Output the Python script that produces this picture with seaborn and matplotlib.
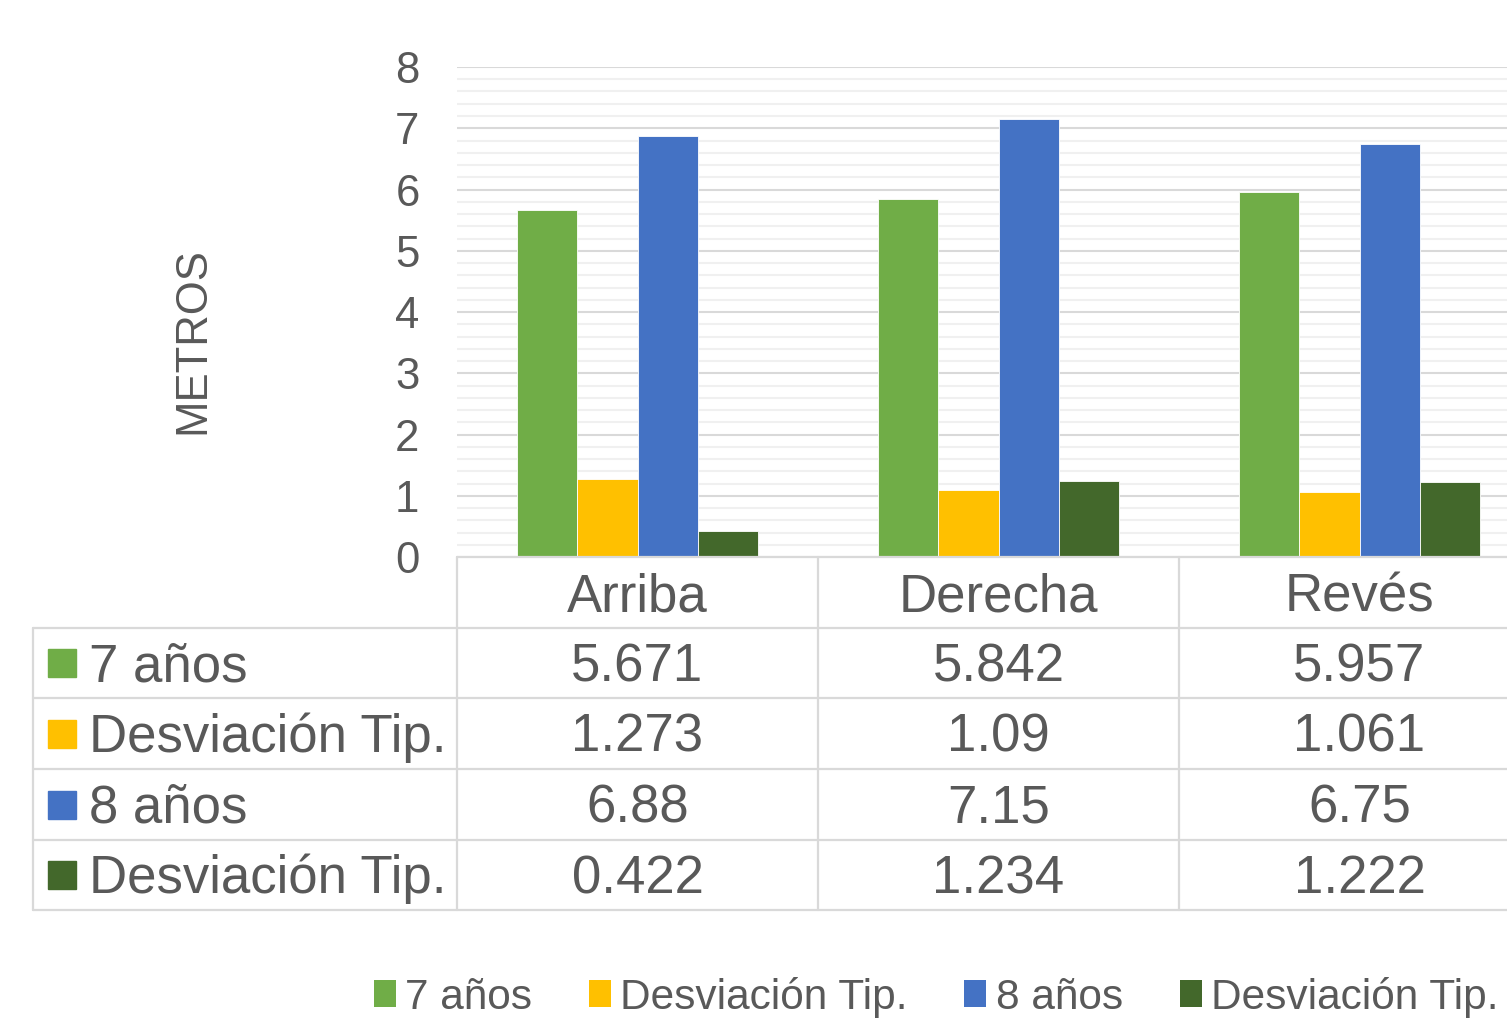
import matplotlib
matplotlib.use("Agg")
import matplotlib.pyplot as plt
from matplotlib.patches import Rectangle, Patch
from matplotlib.lines import Line2D
from matplotlib.ticker import MultipleLocator
import matplotlib.transforms as mtransforms
import seaborn as sns
import pandas as pd

categories = ["Arriba", "Derecha", "Revés"]
series_labels = ["7 años", "Desviación Tip.", "8 años", "Desviación Tip."]
series_keys = ["s7", "sd7", "s8", "sd8"]
vals_7 = [5.671, 5.842, 5.957]
sd_7 = [1.273, 1.09, 1.061]
vals_8 = [6.88, 7.15, 6.75]
sd_8 = [0.422, 1.234, 1.222]
colors = ["#70AD47", "#FFC000", "#4472C4", "#43682B"]
y_label = "METROS"

all_vals = [vals_7, sd_7, vals_8, sd_8]
rows = []
for key, vals in zip(series_keys, all_vals):
    for c, v in zip(categories, vals):
        rows.append({"cat": c, "serie": key, "val": v})
df = pd.DataFrame(rows)

sns.set_theme(style="white")
plt.rcParams["font.family"] = ["Liberation Sans", "DejaVu Sans"]
TXT = "#595959"
GRID = "#d9d9d9"
W, H = 1507, 1022

fig = plt.figure(figsize=(W / 100, H / 100), dpi=100)
ax = fig.add_axes([457 / W, 1 - 557 / H, (1540 - 457) / W, (557 - 67) / H])

sns.barplot(data=df, x="cat", y="val", hue="serie", hue_order=series_keys,
            order=categories, palette=dict(zip(series_keys, colors)),
            width=0.667, saturation=1, ax=ax, legend=False,
            edgecolor="white", linewidth=0.6)

ax.set_xlim(-0.5, 2.5)
ax.set_ylim(0, 8)
ax.yaxis.set_major_locator(MultipleLocator(1))
ax.yaxis.set_minor_locator(MultipleLocator(0.2))
ax.grid(axis="y", which="major", color=GRID, linewidth=1.5)
ax.grid(axis="y", which="minor", color="#f0f0f0", linewidth=1.5)
ax.set_axisbelow(True)
for s in ax.spines.values():
    s.set_visible(False)
ax.tick_params(axis="y", which="both", length=0, labelsize=31.5, labelcolor=TXT, pad=27)
ax.set_xticks([])
ax.set_xlabel("")
ax.set_ylabel("")
fig.text(193 / W, 1 - 341 / H, y_label, rotation=90, ha="center", va="center",
         fontsize=31.4, color=TXT)

# data table below the axis
def fy(y):
    return 1 - y / H

blend = mtransforms.blended_transform_factory(ax.transData, fig.transFigure)
row_bounds = [557, 628, 698, 769, 840, 910]
lw = 1.6
# horizontal lines
fig.add_artist(Line2D([457 / W, 1.0], [fy(557)] * 2, color=GRID, lw=lw))
for yb in row_bounds[1:]:
    fig.add_artist(Line2D([33 / W, 1.0], [fy(yb)] * 2, color=GRID, lw=lw))
# vertical lines
fig.add_artist(Line2D([33 / W] * 2, [fy(628), fy(910)], color=GRID, lw=lw))
for xb in [-0.5, 0.5, 1.5]:
    ax.add_artist(Line2D([xb, xb], [fy(557), fy(910)], color=GRID, lw=lw,
                         transform=blend, clip_on=False))

FS = 38
# header row
for i, c in enumerate(categories):
    ax.text(i, fy(597), c, transform=blend, ha="center", va="center",
            fontsize=FS, color=TXT, clip_on=False)
# data rows
for r, (lab, col, vals) in enumerate(zip(series_labels, colors, all_vals)):
    yc = (row_bounds[r + 1] + row_bounds[r + 2]) / 2
    fig.add_artist(Rectangle((48 / W, fy(yc + 14)), 28 / W, 28 / H,
                             color=col, transform=fig.transFigure))
    fig.text(89 / W, fy(yc + 4), lab, ha="left", va="center", fontsize=FS, color=TXT)
    for i, v in enumerate(vals):
        ax.text(i, fy(yc + 4), str(v), transform=blend, ha="center", va="center",
                fontsize=FS, color=TXT, clip_on=False)

# bottom legend
handles = [Patch(facecolor=c, edgecolor="none") for c in colors]
leg = fig.legend(handles, series_labels, loc="center", ncol=4,
                 bbox_to_anchor=(936 / W, fy(997)), frameon=False,
                 prop={"size": 30.5},
                 handlelength=0.52, handleheight=0.57, handletextpad=0.22,
                 columnspacing=1.34, labelcolor=TXT, borderpad=0, borderaxespad=0)

fig.savefig("out.png", dpi=100)
